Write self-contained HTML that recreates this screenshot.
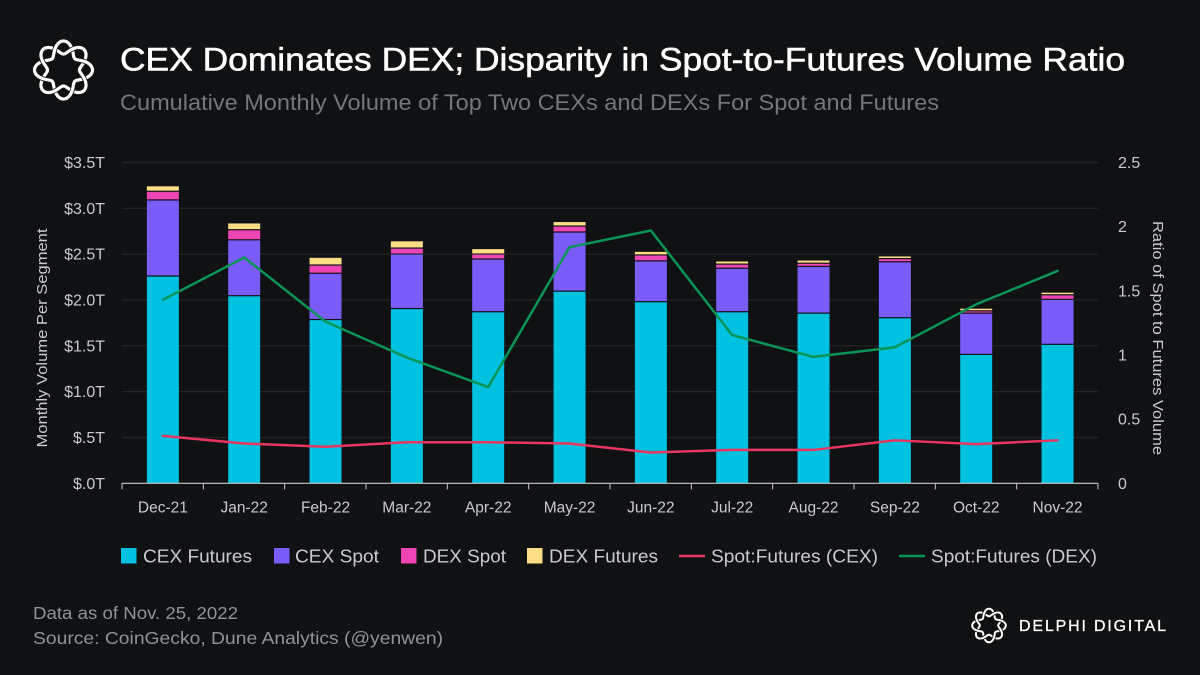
<!DOCTYPE html>
<html lang="en">
<head>
<meta charset="utf-8">
<title>CEX Dominates DEX</title>
<style>
html,body{margin:0;padding:0;background:#0f1113;}
svg{display:block;font-family:"Liberation Sans",sans-serif;}
</style>
</head>
<body>
<svg id="chart" xmlns="http://www.w3.org/2000/svg" width="1200" height="675" viewBox="0 0 1200 675">
<rect width="1200" height="675" fill="#0f1113"/>
<g id="logo-top"></g>
<text x="120" y="70.5" font-size="32" fill="#ffffff" stroke="#ffffff" stroke-width="0.5" textLength="1005" lengthAdjust="spacingAndGlyphs">CEX Dominates DEX; Disparity in Spot-to-Futures Volume Ratio</text>
<text x="120" y="110" font-size="22" fill="#72777c" textLength="819" lengthAdjust="spacingAndGlyphs">Cumulative Monthly Volume of Top Two CEXs and DEXs For Spot and Futures</text>
<g id="grid"></g>
<g id="bars"></g>
<g id="lines"></g>
<g id="axes"></g>
<text transform="translate(47,338) rotate(-90)" text-anchor="middle" font-size="14.5" fill="#c9cacc" textLength="219" lengthAdjust="spacingAndGlyphs">Monthly Volume Per Segment</text>
<text transform="translate(1153,338) rotate(90)" text-anchor="middle" font-size="14.5" fill="#c9cacc" textLength="234" lengthAdjust="spacingAndGlyphs">Ratio of Spot to Futures Volume</text>
<g font-size="18.5" fill="#c9cacc">
<g><rect x="121" y="548" width="15.5" height="15.5" fill="#00c1e0"/><text x="143" y="562.5" textLength="109" lengthAdjust="spacingAndGlyphs">CEX Futures</text></g>
<g><rect x="274" y="548" width="15.5" height="15.5" fill="#7a5cf8"/><text x="295" y="562.5" textLength="84" lengthAdjust="spacingAndGlyphs">CEX Spot</text></g>
<g><rect x="401" y="548" width="15.5" height="15.5" fill="#ee45b4"/><text x="423" y="562.5" textLength="83" lengthAdjust="spacingAndGlyphs">DEX Spot</text></g>
<g><rect x="527" y="548" width="15.5" height="15.5" fill="#ffdd85"/><text x="549" y="562.5" textLength="109" lengthAdjust="spacingAndGlyphs">DEX Futures</text></g>
<g><line x1="679" x2="705" y1="556" y2="556" stroke="#ea3560" stroke-width="2.5"/><text x="711" y="562.5" textLength="167" lengthAdjust="spacingAndGlyphs">Spot:Futures (CEX)</text></g>
<g><line x1="899" x2="925" y1="556" y2="556" stroke="#0a9455" stroke-width="2.5"/><text x="931" y="562.5" textLength="166" lengthAdjust="spacingAndGlyphs">Spot:Futures (DEX)</text></g>
</g>
<text x="33" y="619" font-size="17.5" fill="#8f9498" textLength="205" lengthAdjust="spacingAndGlyphs">Data as of Nov. 25, 2022</text>
<text x="33" y="644" font-size="17.5" fill="#8f9498" textLength="410" lengthAdjust="spacingAndGlyphs">Source: CoinGecko, Dune Analytics (@yenwen)</text>
<g id="logo-bottom"></g>
<text x="1019" y="631" font-size="16" fill="#ffffff" stroke="#ffffff" stroke-width="0.3" textLength="147" lengthAdjust="spacing">DELPHI DIGITAL</text>
</svg>
<script>
const categories = ['Dec-21','Jan-22','Feb-22','Mar-22','Apr-22','May-22','Jun-22','Jul-22','Aug-22','Sep-22','Oct-22','Nov-22'];
const cexFutures = [2.255,2.04,1.78,1.90,1.865,2.09,1.975,1.865,1.85,1.80,1.40,1.51];
const cexSpot = [0.83,0.61,0.505,0.595,0.575,0.645,0.445,0.475,0.51,0.61,0.45,0.49];
const dexSpot = [0.095,0.11,0.09,0.065,0.055,0.065,0.065,0.045,0.035,0.035,0.025,0.05];
const dexFutures = [0.06,0.075,0.085,0.08,0.06,0.05,0.04,0.035,0.035,0.03,0.03,0.03];
const ratioCex = [0.37,0.31,0.285,0.32,0.32,0.31,0.24,0.26,0.26,0.335,0.305,0.335];
const ratioDex = [1.43,1.76,1.26,0.98,0.75,1.84,1.97,1.155,0.985,1.06,1.395,1.655];
const leftTicks = [0,0.5,1,1.5,2,2.5,3,3.5];
const leftTickLabels = ['$.0T','$.5T','$1.0T','$1.5T','$2.0T','$2.5T','$3.0T','$3.5T'];
const rightTicks = [0,0.5,1,1.5,2,2.5];
const rightTickLabels = ['0','0.5','1','1.5','2','2.5'];

const NS = 'http://www.w3.org/2000/svg';
const plotLeft = 122, plotRight = 1098, plotBottom = 483.3, plotTop = 162.5;
const step = (plotRight - plotLeft) / categories.length;
const barWidth = 32;
function xBand(i){ return plotLeft + step * i; }
function xCenter(i){ return xBand(i) + step / 2 + 0.2; }
function yLeft(v){ return plotBottom - (v / 3.5) * (plotBottom - plotTop); }
function yRight(v){ return plotBottom - (v / 2.5) * (plotBottom - plotTop); }
function make(tag, attrs, parent){
  const el = document.createElementNS(NS, tag);
  for (const k in attrs) el.setAttribute(k, attrs[k]);
  parent.appendChild(el);
  return el;
}

const grid = document.getElementById('grid');
leftTicks.forEach(function(t){
  if (t === 0) return;
  const gl = make('line', {x1: plotLeft, x2: plotRight, y1: yLeft(t), y2: yLeft(t), stroke: '#232527', 'stroke-width': 1.2}, grid);
  
  
});

const barsG = document.getElementById('bars');
const seriesList = [
  {values: cexFutures, color: '#00c1e0', name: 'bar-cex-futures'},
  {values: cexSpot, color: '#7a5cf8', name: 'bar-cex-spot'},
  {values: dexSpot, color: '#ee45b4', name: 'bar-dex-spot'},
  {values: dexFutures, color: '#ffdd85', name: 'bar-dex-futures'}
];
categories.forEach(function(c, i){
  let acc = 0;
  seriesList.forEach(function(s, si){
    const y0 = yLeft(acc), y1 = yLeft(acc + s.values[i]);
    acc += s.values[i];
    const gap = si === 0 ? 0 : 1.2;
    const r = make('rect', {x: xCenter(i) - barWidth / 2, y: y1, width: barWidth, height: Math.max(0.8, y0 - y1 - gap), fill: s.color}, barsG);
    
    
  });
});

const linesG = document.getElementById('lines');
function drawLine(values, color, name){
  const pts = values.map(function(v, i){ return xCenter(i) + ',' + yRight(v); }).join(' ');
  const p = make('polyline', {points: pts, fill: 'none', stroke: color, 'stroke-width': 2.5, 'stroke-linejoin': 'round', 'stroke-linecap': 'round'}, linesG);
  
  
}
drawLine(ratioCex, '#ea3560', 'line-spot-futures-cex');
drawLine(ratioDex, '#0a9455', 'line-spot-futures-dex');

const axes = document.getElementById('axes');
const axisLine = make('line', {x1: plotLeft, x2: plotRight, y1: plotBottom, y2: plotBottom, stroke: '#c9cacc', 'stroke-width': 1.2}, axes);


for (let i = 0; i <= categories.length; i++) {
  const tk = make('line', {x1: xBand(i), x2: xBand(i), y1: plotBottom, y2: plotBottom + 6, stroke: '#c9cacc', 'stroke-width': 1}, axes);
  
  
}
categories.forEach(function(c, i){
  const t = make('text', {x: xCenter(i), y: 512.5, 'text-anchor': 'middle', 'font-size': 15.5, fill: '#c9cacc'}, axes);
  
  
  t.textContent = c;
});
leftTicks.forEach(function(v, i){
  const t = make('text', {x: 105, y: yLeft(v) + 5.5, 'text-anchor': 'end', 'font-size': 16, fill: '#c9cacc'}, axes);
  
  
  t.textContent = leftTickLabels[i];
});
rightTicks.forEach(function(v, i){
  const t = make('text', {x: 1118, y: yRight(v) + 5.5, 'font-size': 16, fill: '#c9cacc'}, axes);
  
  
  t.textContent = rightTickLabels[i];
});

function drawLogo(host, cx, cy, mid, amp, sw){
  const phase = Math.PI / 2;
  function pt(a, sign){
    const r = mid + sign * amp * Math.sin(4 * a + phase);
    return (cx + r * Math.cos(a)).toFixed(2) + ' ' + (cy + r * Math.sin(a)).toFixed(2);
  }
  [1, -1].forEach(function(sign){
    let d = '';
    for (let k = 0; k <= 240; k++) {
      d += (k ? 'L' : 'M') + pt(k / 240 * Math.PI * 2, sign);
    }
    make('path', {d: d + 'Z', fill: 'none', stroke: '#ffffff', 'stroke-width': sw}, host);
  });
  for (let m = 0; m < 8; m++) {
    const ac = (m * Math.PI - phase) / 4;
    const sign = m % 2 ? -1 : 1;
    let d = '';
    for (let k = -6; k <= 6; k++) {
      d += (k === -6 ? 'M' : 'L') + pt(ac + k * 0.028, sign);
    }
    make('path', {d: d, fill: 'none', stroke: '#0f1113', 'stroke-width': sw + 1.6}, host);
    make('path', {d: d, fill: 'none', stroke: '#ffffff', 'stroke-width': sw}, host);
  }
}
drawLogo(document.getElementById('logo-top'), 63.5, 70, 22.5, 6.5, 3.2);
drawLogo(document.getElementById('logo-bottom'), 989, 625.5, 13, 3.8, 2);
</script>
</body>
</html>
